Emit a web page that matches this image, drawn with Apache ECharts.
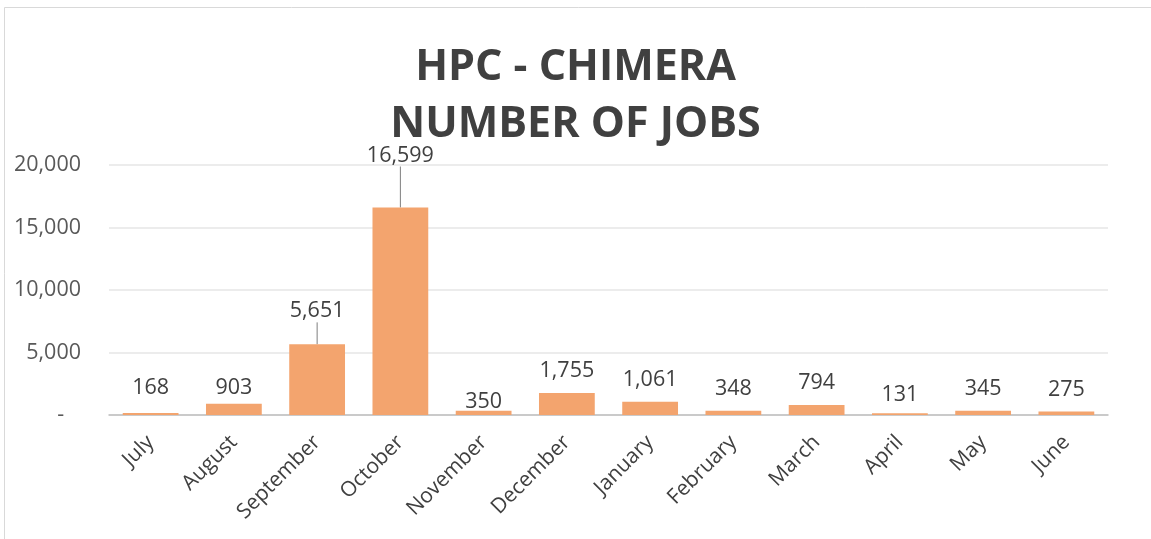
<!DOCTYPE html>
<html>
<head>
<meta charset="utf-8">
<script src="https://cdn.jsdelivr.net/npm/echarts@6/dist/echarts.min.js"></script>
<style>
html,body{margin:0;padding:0;background:#fff;}
#chart{width:1151px;height:539px;}
</style>
</head>
<body>
<div id="chart"></div>
<script>
const categories = ['July','August','September','October','November','December','January','February','March','April','May','June'];
const jobs = [168, 903, 5651, 16599, 350, 1755, 1061, 348, 794, 131, 345, 275];
const yTicks = [0, 5000, 10000, 15000, 20000];
const titleLines = ['HPC - CHIMERA', 'NUMBER OF JOBS'];

const FONT = '"Open Sans", Lato, sans-serif';
const chart = echarts.init(document.getElementById('chart'), null, {renderer: 'canvas'});

function fmt(v){
  if (v === 0) return '-   ';
  return v.toLocaleString('en-US');
}

// label vertical nudges (px) to mimic the reference's hand-placed labels
const labelDy = {0: -3, 1: 6, 2: -11, 3: -30, 4: 13, 9: 4};
const leaderIdx = [2, 3];

const barData = jobs.map((v, i) => ({
  value: v,
  labelLine: {show: leaderIdx.indexOf(i) >= 0}
}));

chart.setOption({
  animation: false,
  backgroundColor: '#ffffff',
  graphic: [{
    type: 'rect',
    shape: {x: 4.5, y: 7.5, width: 1200, height: 700},
    style: {fill: 'none', stroke: '#d9d9d9', lineWidth: 1},
    silent: true, z: -1
  }],
  title: {
    text: titleLines.join('\n'),
    left: 'center',
    top: 34,
    textStyle: {
      fontFamily: FONT,
      fontSize: 43,
      fontWeight: 'bold',
      color: '#404040',
      lineHeight: 57
    }
  },
  grid: {left: 109, right: 43, top: 165, bottom: 124, containLabel: false},
  xAxis: {
    type: 'category',
    data: categories,
    axisLine: {lineStyle: {color: '#bfbfbf', width: 1.5}},
    axisTick: {show: false},
    axisLabel: {
      rotate: 45,
      fontFamily: FONT,
      fontSize: 21,
      color: '#404040',
      margin: 24,
      interval: 0
    }
  },
  yAxis: {
    type: 'value',
    min: yTicks[0],
    max: yTicks[yTicks.length - 1],
    interval: yTicks[1] - yTicks[0],
    axisLine: {show: false},
    axisTick: {show: false},
    splitLine: {lineStyle: {color: '#e6e6e6', width: 1.5}},
    axisLabel: {
      formatter: fmt,
      fontFamily: FONT,
      fontSize: 21.5,
      color: '#595959',
      margin: 28
    }
  },
  series: [{
    type: 'bar',
    data: barData,
    barCategoryGap: '33%',
    itemStyle: {color: '#F3A46E'},
    label: {
      show: true,
      position: 'top',
      distance: 11,
      formatter: p => fmt(p.value),
      fontFamily: FONT,
      fontSize: 21.5,
      color: '#404040'
    },
    labelLine: {lineStyle: {color: '#7f7f7f', width: 1}},
    labelLayout: function(params){
      const dy = labelDy[params.dataIndex];
      if (dy !== undefined) return {dy: dy};
      return {};
    }
  }]
});
</script>
</body>
</html>
